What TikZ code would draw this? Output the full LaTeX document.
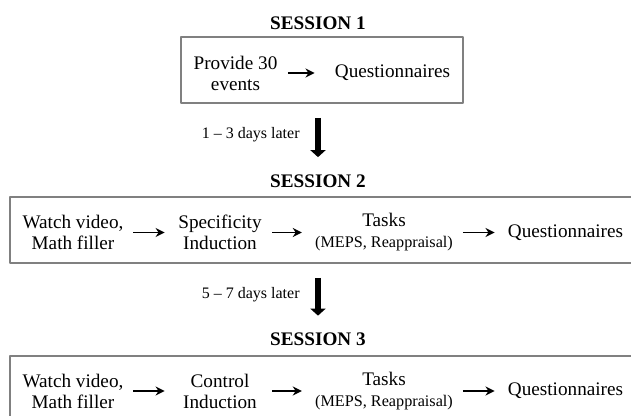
\documentclass[tikz,border=0pt]{standalone}
\usepackage{fontspec}
\setmainfont{Liberation Serif}
\usetikzlibrary{arrows.meta}

\begin{document}
\begin{tikzpicture}[x=.5pt, y=-.5pt, font=\fontsize{9.6}{10.5}\selectfont, line join=round,
	frame/.style={draw=black!50, line width=1pt, inner sep=0pt, minimum height=33pt},
	title/.style={font=\fontsize{9.6}{10.5}\selectfont\bfseries, inner sep=0pt},
	txt/.style={align=center, inner sep=0pt},
	flow/.style={-{Stealth[length=4.5pt,width=4.5pt]}, line width=.9pt, shorten <=4.8pt, shorten >=6.5pt},
	later/.style={-{Triangle[length=3.5pt,width=7.5pt]}, line width=3pt, shorten <=7pt, shorten >=8.5pt},
	days/.style={font=\fontsize{8}{9}\selectfont, inner sep=0pt, anchor=east}]
	\useasboundingbox (0,0) rectangle (631,416);
	\clip (0,0) rectangle (631,416);
	% session 1
	\node[title] (s1) at (318,23) {SESSION 1};
	\node[frame, minimum width=141pt] (box1) at (322,70) {};
	\node[txt] (provide) at (235.5,73) {Provide 30\\events};
	\node[txt] (quest1) at (392.5,73) {Questionnaires};
	\draw[flow, shorten <=5pt, shorten >=10pt] (provide) -- (quest1);
	% sessions 2 and 3
	\foreach \s/\y/\ind in {2/0/Specificity, 3/158.5/Control}{
		\node[title] (s\s) at (318,181+\y) {SESSION \s};
		\node[frame, minimum width=325pt] (box\s) at (335,230+\y) {};
		\node[txt] (watch\s) at (73,232.5+\y) {Watch video,\\Math filler};
		\node[txt, text width=42pt] (induct\s) at (220,232.5+\y) {\ind\\Induction};
		\node[txt] (tasks\s) at (384,232.5+\y) {Tasks\\{\fontsize{8.1}{10.5}\selectfont (MEPS, Reappraisal)}};
		\node[txt] (quest\s) at (565.5,232.5+\y) {Questionnaires};
		\draw[flow] (watch\s) -- (induct\s);
		\draw[flow] (induct\s) -- (tasks\s);
		\draw[flow] (tasks\s) -- (quest\s);
	}
	% time between sessions
	\node[days] (gap12) at (300,135) {1 – 3 days later};
	\node[days] (gap23) at (300,295) {5 – 7 days later};
	\draw[later] (box1.south -| s2.north) -- (s2.north);
	\draw[later] (box2.south -| s3.north) -- (s3.north);
\end{tikzpicture}
\end{document}
